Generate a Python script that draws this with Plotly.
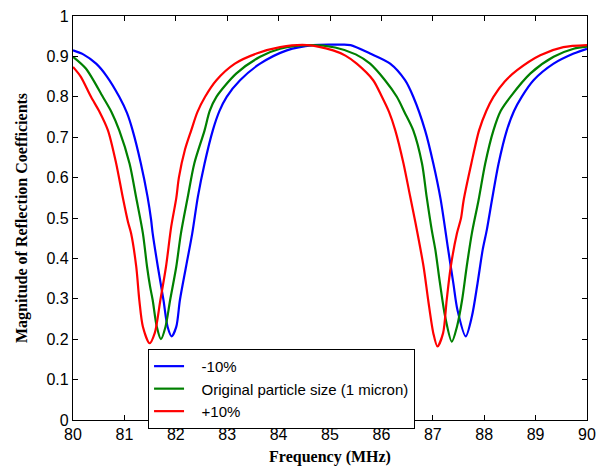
import plotly.graph_objects as go

# ---- data ----
freq_m10 = [80.00, 80.20, 80.45, 80.65, 80.90, 81.05, 81.16, 81.32, 81.45, 81.52, 81.55, 81.65,
            81.76, 81.84, 81.92, 82.01, 82.08, 82.20, 82.32, 82.43, 82.56, 82.72, 82.85, 82.99,
            83.25, 83.64, 84.16, 84.67, 85.19, 85.40, 85.78, 86.17, 86.46, 86.62, 86.85, 87.01,
            87.15, 87.30, 87.40, 87.48, 87.64, 87.76, 87.87, 87.97, 88.05, 88.15, 88.28, 88.44,
            88.58, 88.73, 88.96, 89.35, 89.74, 90.00]
mag_m10 = [0.915, 0.905, 0.882, 0.852, 0.800, 0.760, 0.717, 0.635, 0.553, 0.495, 0.462, 0.380,
           0.297, 0.231, 0.207, 0.231, 0.297, 0.380, 0.462, 0.553, 0.635, 0.717, 0.765, 0.800,
           0.841, 0.882, 0.915, 0.928, 0.929, 0.928, 0.907, 0.882, 0.841, 0.800, 0.717, 0.635,
           0.548, 0.421, 0.338, 0.272, 0.207, 0.256, 0.338, 0.421, 0.470, 0.544, 0.635, 0.717,
           0.765, 0.800, 0.841, 0.882, 0.907, 0.919]

freq_orig = [80.00, 80.25, 80.58, 80.75, 80.90, 81.10, 81.23, 81.36, 81.44, 81.50, 81.55, 81.63,
             81.71, 81.80, 81.89, 82.01, 82.10, 82.23, 82.36, 82.56, 82.66, 82.79, 83.18, 83.64,
             84.03, 84.61, 85.10, 85.50, 85.78, 86.07, 86.30, 86.45, 86.62, 86.79, 86.88, 86.98,
             87.05, 87.14, 87.24, 87.37, 87.47, 87.57, 87.66, 87.76, 87.89, 88.02, 88.18, 88.32,
             88.51, 88.90, 89.35, 89.74, 90.00]
mag_orig = [0.899, 0.870, 0.800, 0.762, 0.717, 0.635, 0.550, 0.462, 0.380, 0.330, 0.297, 0.231,
            0.200, 0.231, 0.297, 0.380, 0.462, 0.550, 0.635, 0.717, 0.765, 0.800, 0.858, 0.899,
            0.919, 0.928, 0.922, 0.905, 0.882, 0.841, 0.800, 0.762, 0.717, 0.635, 0.553, 0.470,
            0.421, 0.338, 0.256, 0.194, 0.231, 0.297, 0.380, 0.462, 0.544, 0.635, 0.717, 0.765,
            0.800, 0.858, 0.899, 0.919, 0.924]

freq_p10 = [80.00, 80.15, 80.35, 80.52, 80.68, 80.84, 80.97, 81.07, 81.13, 81.23, 81.29, 81.36,
            81.49, 81.59, 81.70, 81.81, 81.91, 82.01, 82.06, 82.18, 82.30, 82.42, 82.57, 82.79,
            83.15, 83.57, 84.03, 84.55, 85.06, 85.30, 85.52, 85.84, 86.01, 86.15, 86.27, 86.43,
            86.56, 86.66, 86.82, 86.91, 87.01, 87.09, 87.20, 87.27, 87.35, 87.47, 87.55, 87.60,
            87.75, 87.90, 88.04, 88.18, 88.40, 88.64, 89.09, 89.54, 90.00]
mag_p10 = [0.874, 0.850, 0.800, 0.762, 0.717, 0.635, 0.550, 0.490, 0.462, 0.380, 0.297, 0.231,
           0.190, 0.215, 0.297, 0.380, 0.478, 0.550, 0.600, 0.670, 0.717, 0.762, 0.800, 0.841,
           0.882, 0.907, 0.923, 0.928, 0.915, 0.902, 0.882, 0.841, 0.800, 0.762, 0.717, 0.635,
           0.553, 0.490, 0.380, 0.297, 0.215, 0.182, 0.215, 0.297, 0.380, 0.462, 0.500, 0.544,
           0.635, 0.717, 0.765, 0.800, 0.838, 0.866, 0.903, 0.923, 0.928]

series_names = ["-10%", "Original particle size (1 micron)", "+10%"]
series_colors = ["#0000FF", "#008000", "#FF0000"]

x_ticks = list(range(80, 91))
y_ticks = [i / 10 for i in range(11)]

NB = "\u00a0\u00a0\u00a0"

fig = go.Figure()
for fx, my, name, col in zip([freq_m10, freq_orig, freq_p10], [mag_m10, mag_orig, mag_p10],
                             series_names, series_colors):
    fig.add_trace(go.Scatter(x=fx, y=my, mode="lines", name=NB + name,
                             line=dict(color=col, width=2.2, shape="spline", smoothing=0.8)))

axis_common = dict(showgrid=False, zeroline=False, showline=True, linecolor="black",
                   linewidth=1.3, mirror="ticks", ticks="inside", ticklen=5, tickcolor="black",
                   automargin=False,
                   tickfont=dict(family="Liberation Sans, Arial", size=16, color="black"))

fig.update_xaxes(range=[80, 90], tickvals=x_ticks,
                 title=dict(text="<b>Frequency (MHz)</b>", standoff=10,
                            font=dict(family="Liberation Serif, Times New Roman", size=16, color="black")),
                 **axis_common)
fig.update_yaxes(range=[0, 1], tickvals=y_ticks,
                 title=dict(text="<b>Magnitude of Reflection Coefficients</b>", standoff=14,
                            font=dict(family="Liberation Serif, Times New Roman", size=16, color="black")),
                 **axis_common)

fig.update_layout(
    width=600, height=466,
    margin=dict(l=73, r=13, t=16, b=46, autoexpand=False),
    paper_bgcolor="white", plot_bgcolor="white",
    showlegend=True,
    legend=dict(x=0.146, y=0.176, xanchor="left", yanchor="top",
                bgcolor="white", bordercolor="black", borderwidth=1,
                font=dict(family="Liberation Sans, Arial", size=15, color="black"),
                tracegroupgap=0),
)

fig.write_html("out.html")
